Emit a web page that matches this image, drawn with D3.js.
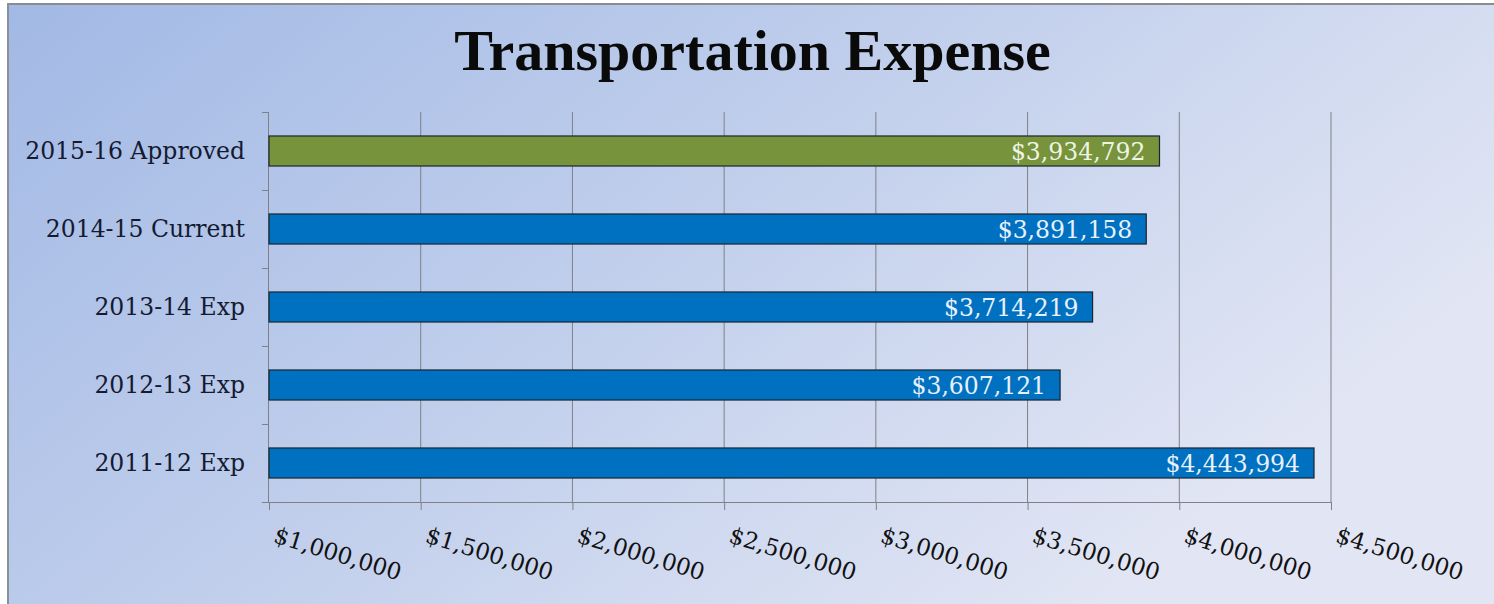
<!DOCTYPE html>
<html>
<head>
<meta charset="utf-8">
<script src="https://cdn.jsdelivr.net/npm/d3@7"></script>
<style>
  html, body { margin: 0; padding: 0; background: #ffffff; }
  svg { display: block; }
</style>
</head>
<body>
<svg id="chart" width="1494" height="604"></svg>
<script>
// Budget categories, top to bottom
const categories = ["2015-16 Approved", "2014-15 Current", "2013-14 Exp", "2012-13 Exp", "2011-12 Exp"];
// Transportation expense per year (USD)
const values = [3934792, 3891158, 3714219, 3607121, 4443994];
// Bar fill per category: the approved budget is highlighted
const barColors = ["#77933c", "#0070c0", "#0070c0", "#0070c0", "#0070c0"];
// Value axis ticks
const xTicks = [1000000, 1500000, 2000000, 2500000, 3000000, 3500000, 4000000, 4500000];

const W = 1494, H = 604;
const frame = { left: 7, top: 3, right: 1494, bottom: 604 };
const plot = { left: 269, right: 1331, top: 112, bottom: 502 };

const svg = d3.select("#chart");
const defs = svg.append("defs");

const bg = defs.append("linearGradient")
  .attr("id", "bgGrad")
  .attr("x1", "0").attr("y1", "0").attr("x2", "1").attr("y2", "0.5");
bg.append("stop").attr("offset", "0").attr("stop-color", "#a2b9e5");
bg.append("stop").attr("offset", "0.45").attr("stop-color", "#bdcceb");
bg.append("stop").attr("offset", "1").attr("stop-color", "#e2e6f4");

// Chart background and frame
svg.append("rect")
  .attr("x", frame.left).attr("y", frame.top)
  .attr("width", frame.right - frame.left).attr("height", frame.bottom - frame.top)
  .attr("fill", "url(#bgGrad)");
svg.append("line")
  .attr("x1", frame.left).attr("x2", frame.right)
  .attr("y1", frame.top + 1).attr("y2", frame.top + 1)
  .attr("stroke", "#8a8c90").attr("stroke-width", 2);
svg.append("line")
  .attr("x1", frame.left + 1).attr("x2", frame.left + 1)
  .attr("y1", frame.top).attr("y2", frame.bottom)
  .attr("stroke", "#8a8f98").attr("stroke-width", 2);

// Title
svg.append("text")
  .attr("x", (frame.left + frame.right) / 2 + 2)
  .attr("y", 70)
  .attr("text-anchor", "middle")
  .attr("font-family", "'Liberation Serif', 'DejaVu Serif', serif")
  .attr("font-weight", "bold")
  .attr("font-size", 58)
  .attr("fill", "#0a0a0a")
  .text("Transportation Expense");

// Scales
const x = d3.scaleLinear()
  .domain([xTicks[0], xTicks[xTicks.length - 1]])
  .range([plot.left, plot.right]);

const y = d3.scaleBand()
  .domain(categories)
  .range([plot.top, plot.bottom])
  .paddingInner(0.615)
  .paddingOuter(0.3075);

const serif = "'DejaVu Serif', 'Liberation Serif', serif";

// Vertical gridlines
svg.append("g")
  .selectAll("line")
  .data(xTicks.slice(1))
  .join("line")
  .attr("x1", d => x(d)).attr("x2", d => x(d))
  .attr("y1", plot.top).attr("y2", plot.bottom)
  .attr("stroke", "#7f8186").attr("stroke-width", 1);

// Category axis: line plus ticks on band boundaries
const step = y.step();
const catBounds = d3.range(categories.length + 1).map(i => plot.top + i * step);
const yAxisG = svg.append("g");
yAxisG.append("line")
  .attr("x1", plot.left - 0.5).attr("x2", plot.left - 0.5)
  .attr("y1", plot.top).attr("y2", plot.bottom)
  .attr("stroke", "#7f8186");
yAxisG.selectAll("line.tick")
  .data(catBounds)
  .join("line")
  .attr("class", "tick")
  .attr("x1", plot.left - 7).attr("x2", plot.left)
  .attr("y1", d => d + 0.5).attr("y2", d => d + 0.5)
  .attr("stroke", "#7f8186");
yAxisG.selectAll("text")
  .data(categories)
  .join("text")
  .attr("x", 245)
  .attr("y", d => y(d) + y.bandwidth() / 2)
  .attr("dy", "0.35em")
  .attr("text-anchor", "end")
  .attr("font-family", serif)
  .attr("font-size", 23.5)
  .attr("fill", "#141a30")
  .text(d => d);

// Bars
const rows = categories.map((c, i) => ({ cat: c, value: values[i], color: barColors[i] }));
svg.append("g")
  .selectAll("rect")
  .data(rows)
  .join("rect")
  .attr("x", plot.left)
  .attr("y", d => y(d.cat))
  .attr("width", d => x(d.value) - plot.left)
  .attr("height", y.bandwidth())
  .attr("fill", d => d.color)
  .attr("stroke", "#1b2630")
  .attr("stroke-width", 1.2);

// Value labels inside bar ends
const fmt = d3.format("$,");
svg.append("g")
  .selectAll("text")
  .data(rows)
  .join("text")
  .attr("x", d => x(d.value) - 14)
  .attr("y", d => y(d.cat) + y.bandwidth() / 2)
  .attr("dy", "0.37em")
  .attr("text-anchor", "end")
  .attr("font-family", serif)
  .attr("font-size", 23.5)
  .attr("fill", d => d.color === "#77933c" ? "#eef3e4" : "#e8f1fb")
  .text(d => fmt(d.value));

// Value axis
const xAxis = d3.axisBottom(x)
  .tickValues(xTicks)
  .tickSize(8)
  .tickFormat(fmt);
const xAxisG = svg.append("g")
  .attr("transform", `translate(0,${plot.bottom})`)
  .call(xAxis);
xAxisG.select(".domain")
  .attr("stroke", "#7f8186")
  .attr("d", `M${plot.left - 7},0.5H${plot.right}`);
xAxisG.selectAll(".tick line").attr("stroke", "#7f8186");
xAxisG.selectAll(".tick text")
  .attr("font-family", serif)
  .attr("font-size", 23)
  .attr("fill", "#111111")
  .attr("text-anchor", "start")
  .attr("x", 0).attr("y", 0).attr("dy", 0)
  .attr("transform", "translate(3,40) rotate(17)");
</script>
</body>
</html>
